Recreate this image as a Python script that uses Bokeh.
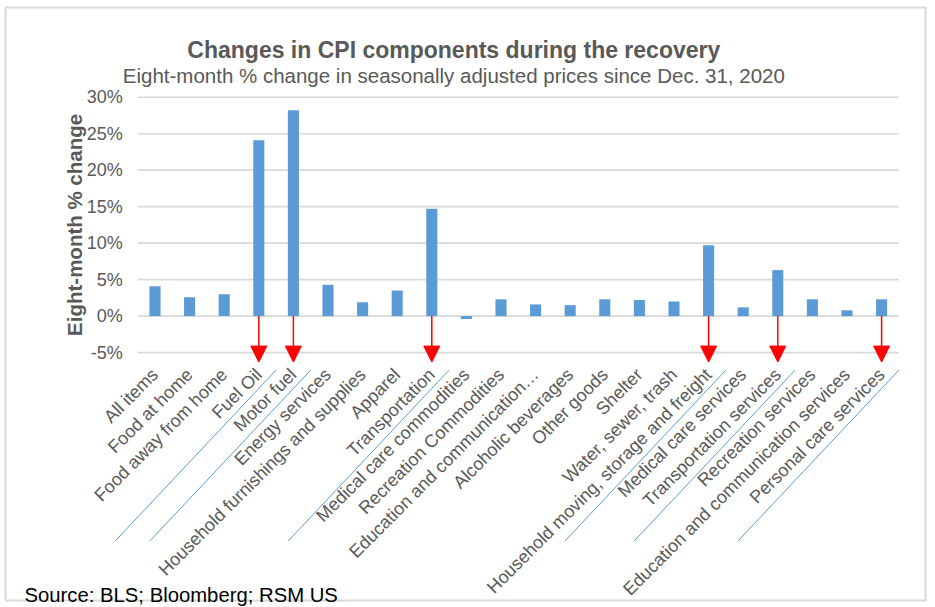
import math
from bokeh.plotting import figure
from bokeh.models import (ColumnDataSource, FixedTicker, PrintfTickFormatter, LinearAxis,
                          Range1d, Label, Arrow, NormalHead)
from bokeh.embed import file_html
from bokeh.resources import INLINE

# ---------------- data ----------------
categories = [
    "All items", "Food at home", "Food away from home", "Fuel Oil", "Motor fuel",
    "Energy services", "Household furnishings and supplies", "Apparel", "Transportation",
    "Medical care commodities", "Recreation Commodities", "Education and communication…",
    "Alcoholic beverages", "Other goods", "Shelter", "Water, sewer, trash",
    "Household moving, storage and freight", "Medical care services",
    "Transportation services", "Recreation services",
    "Education and communication services", "Personal care services",
]
values = [4.1, 2.6, 3.0, 24.1, 28.2, 4.3, 1.9, 3.5, 14.7, -0.4, 2.3, 1.6,
          1.5, 2.3, 2.2, 2.0, 9.7, 1.2, 6.3, 2.3, 0.8, 2.3]
highlighted = ["Fuel Oil", "Motor fuel", "Transportation",
               "Household moving, storage and freight", "Transportation services",
               "Personal care services"]
y_ticks = [-5, 0, 5, 10, 15, 20, 25, 30]

title_text = "Changes in CPI components during the recovery"
subtitle_text = "Eight-month % change in seasonally adjusted prices since Dec. 31, 2020"
y_title = "Eight-month % change"
source_text = "Source: BLS; Bloomberg; RSM US"

# ---------------- styling ----------------
FONT = "Liberation Sans"
GREY = "#595959"
BAR = "#5B9BD5"
W, H = 935, 607

n = len(categories)
xs = list(range(1, n + 1))

# scale: frame covers whole canvas
PX_X = 34.6      # px per category
PX_Y = 7.297     # px per percent point
x_start = 0.5 - 137.2 / PX_X
x_end = x_start + W / PX_X
y_end = 30 + 96.7 / PX_Y
y_start = y_end - H / PX_Y

def sx(px):  # canvas px -> data x
    return x_start + px / PX_X

def sy(px):  # canvas px -> data y
    return y_end - px / PX_Y

p = figure(width=W, height=H, x_range=Range1d(x_start, x_end), y_range=Range1d(y_start, y_end),
           output_backend="svg", toolbar_location=None,
           x_axis_location=None, y_axis_location=None,
           min_border=0, min_border_left=0, min_border_right=0,
           min_border_top=0, min_border_bottom=0)
p.xgrid.visible = False
p.ygrid.visible = False
p.outline_line_color = None
p.background_fill_color = "white"
p.border_fill_color = "white"

# chart border
p.quad(left=[sx(5)], right=[sx(925)], top=[sy(7)], bottom=[sy(600)],
       fill_color=None, line_color="#d9d9d9", line_width=2)

# gridlines (only over plot area)
p.segment(x0=[0.5] * len(y_ticks), x1=[n + 0.5] * len(y_ticks), y0=y_ticks, y1=y_ticks,
          line_color="#d9d9d9", line_width=1.6, level="underlay")

# bars
src = ColumnDataSource(dict(x=xs, top=values, cat=categories))
p.vbar(x="x", top="top", bottom=0, width=0.32, source=src, fill_color=BAR, line_color=None)

# y axis
yaxis = LinearAxis(ticker=FixedTicker(ticks=y_ticks), formatter=PrintfTickFormatter(format="%d%%"),
                   fixed_location=0.5)
yaxis.axis_line_color = None
yaxis.major_tick_line_color = None
yaxis.minor_tick_line_color = None
yaxis.major_tick_out = 0
yaxis.major_tick_in = 0
yaxis.major_label_standoff = 15
yaxis.major_label_text_font = FONT
yaxis.major_label_text_font_size = "18px"
yaxis.major_label_text_color = GREY
p.add_layout(yaxis, "left")

# x axis (category labels)
xaxis = LinearAxis(ticker=FixedTicker(ticks=xs),
                   major_label_overrides={x: c for x, c in zip(xs, categories)},
                   fixed_location=y_ticks[0])
xaxis.axis_line_color = None
xaxis.major_tick_line_color = None
xaxis.minor_tick_line_color = None
xaxis.major_tick_out = 0
xaxis.major_tick_in = 0
xaxis.major_label_standoff = 19
xaxis.major_label_orientation = math.pi / 4
xaxis.major_label_text_font = FONT
xaxis.major_label_text_font_size = "18px"
xaxis.major_label_text_color = GREY
p.add_layout(xaxis, "below")

# red arrows under highlighted categories
hx = [categories.index(c) + 1 for c in highlighted]
arrow_src = ColumnDataSource(dict(x=hx, y0=[0] * len(hx), y1=[-6.3] * len(hx)))
p.add_layout(Arrow(end=NormalHead(size=16, fill_color="#ff0000", line_color="#ff0000"),
                   x_start="x", y_start="y0", x_end="x", y_end="y1",
                   line_color="#ff0000", line_width=1.5, source=arrow_src))

# blue underlines beside highlighted labels
ul_x0 = [x + 0.5 for x in hx]
ul_y0 = [-7.4] * len(hx)
ul_x1 = [x - 161 / PX_X for x in ul_x0]
ul_y1 = [y - 171 / PX_Y for y in ul_y0]
p.segment(x0=ul_x0, y0=ul_y0, x1=ul_x1, y1=ul_y1, line_color=BAR, line_width=1)

# titles
p.add_layout(Label(x=sx(453.3), y=sy(49), text=title_text, text_align="center",
                   text_baseline="alphabetic", text_font=FONT, text_font_style="bold",
                   text_font_size="23px", text_color=GREY))
p.add_layout(Label(x=sx(453.3), y=sy(75), text=subtitle_text, text_align="center",
                   text_baseline="alphabetic", text_font=FONT,
                   text_font_size="20.5px", text_color=GREY))
p.add_layout(Label(x=sx(73.5), y=(y_ticks[0] + y_ticks[-1]) / 2, text=y_title, angle=math.pi / 2,
                   text_align="center", text_baseline="alphabetic", text_font=FONT,
                   text_font_style="bold", text_font_size="20.5px", text_color=GREY))
p.add_layout(Label(x=sx(24), y=sy(594), text=source_text, text_align="left",
                   text_baseline="alphabetic", text_font=FONT,
                   text_font_size="20.3px", text_color="#000000"))

open("out.html", "w").write(file_html(p, INLINE))
